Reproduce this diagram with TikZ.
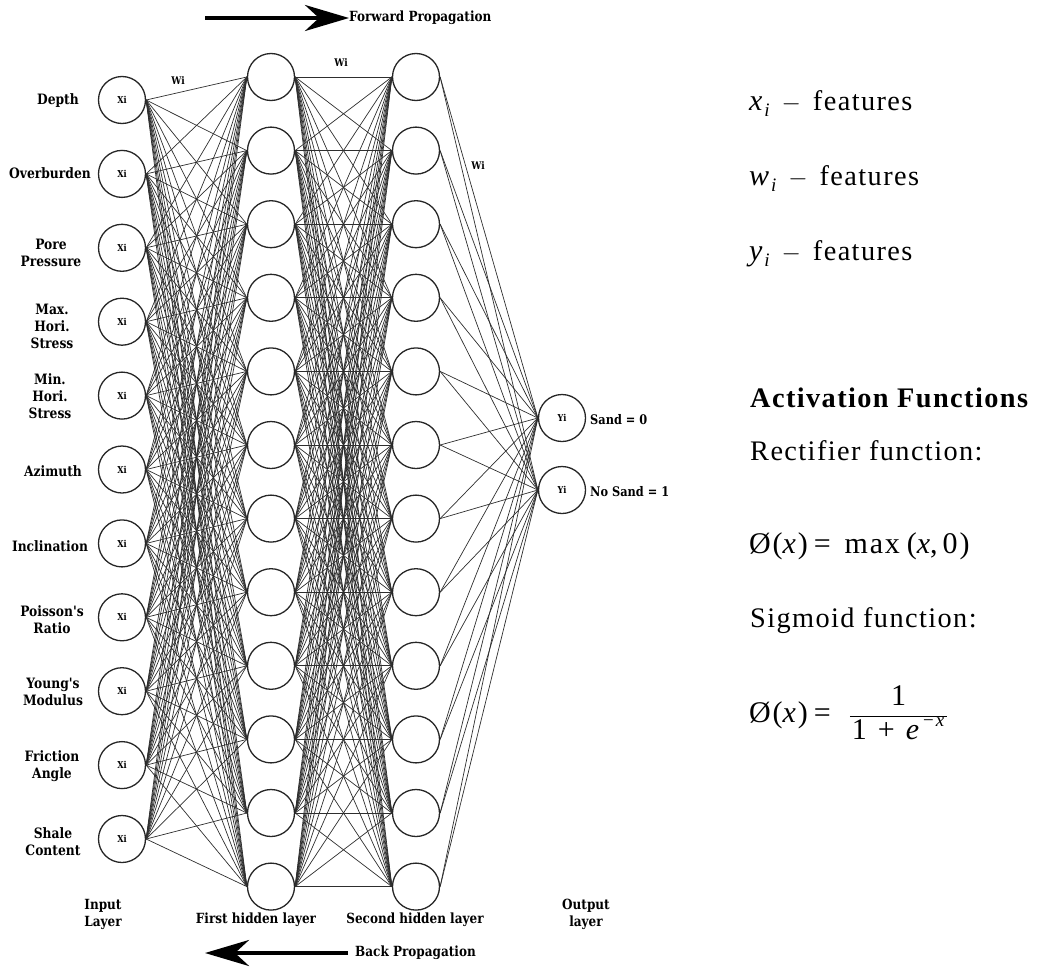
\documentclass[tikz,border=0pt]{standalone}
\usepackage{fontspec}
\setmainfont{Liberation Serif}
\newfontfamily\lblfont[FakeStretch=0.86]{DejaVu Serif}
\newfontfamily\rtfont[LetterSpace=5]{Liberation Serif}
\newfontfamily\rmath[LetterSpace=6]{Liberation Serif}
\usetikzlibrary{arrows.meta}
\newcommand{\subsc}[1]{\raisebox{-0.22em}{\fontsize{19}{20}\selectfont\itshape #1}}
\newcommand{\supsc}[1]{\raisebox{0.42em}{\fontsize{19}{20}\selectfont\itshape #1}}
\tikzset{
  neuron/.style={circle, draw=black!85, line width=1.3pt, minimum size=47pt, inner sep=0pt,
    font=\lblfont\bfseries\fontsize{9.5}{10}\selectfont},
  wire/.style={draw=black!82, line width=0.7pt},
  feat/.style={align=center, inner sep=0pt, font=\lblfont\bfseries\fontsize{14.3}{17}\selectfont},
  wlabel/.style={inner sep=0pt, font=\lblfont\bfseries\fontsize{10.5}{12}\selectfont},
  outlbl/.style={anchor=west, inner sep=0pt, font=\lblfont\bfseries\fontsize{13.2}{15}\selectfont},
  layerlbl/.style={align=center, inner sep=0pt, font=\lblfont\bfseries\fontsize{14}{17}\selectfont},
  proplbl/.style={anchor=west, inner sep=0pt, font=\lblfont\bfseries\fontsize{14}{15}\selectfont},
  proparrow/.style={line width=4pt, -{Stealth[length=44pt, width=26pt, inset=14pt]}},
  rtext/.style={anchor=base west, inner sep=0pt, font=\rtfont\fontsize{28.3}{34}\selectfont},
  rmtext/.style={anchor=base west, inner sep=0pt, font=\rmath\fontsize{30}{34}\selectfont},
}
\begin{document}
\begin{tikzpicture}[x=1pt,y=-1pt]
\useasboundingbox (0,0) rectangle (1062,966);

% input layer
\foreach \i in {1,...,11} {
  \pgfmathsetmacro\yy{100+(\i-1)*73.9}
  \node[neuron] (in\i) at (122,\yy) {Xi};
}
% first hidden layer
\foreach \j in {1,...,12} {
  \pgfmathsetmacro\yy{77+(\j-1)*73.6}
  \node[neuron] (a\j) at (271,\yy) {};
}
% second hidden layer
\foreach \j in {1,...,12} {
  \pgfmathsetmacro\yy{77+(\j-1)*73.6}
  \node[neuron] (b\j) at (416,\yy) {};
}
% output layer
\node[neuron] (o1) at (562,418) {Yi};
\node[neuron] (o2) at (562,490) {Yi};

% connections
\foreach \i in {1,...,11} \foreach \j in {1,...,12} \draw[wire] (in\i.east) -- (a\j.west);
\foreach \i in {1,...,12} \foreach \j in {1,...,12} \draw[wire] (a\i.east) -- (b\j.west);
\foreach \i in {1,...,12} \foreach \j in {1,2} \draw[wire] (b\i.east) -- (o\j.west);

% weight labels
\node[wlabel] (w1) at (178,81) {Wi};
\node[wlabel] (w2) at (341,63) {Wi};
\node[wlabel] (w3) at (478,166) {Wi};

% feature labels
\node[feat] (f1) at (58,101) {Depth};
\node[feat] (f2) at (50,173) {Overburden};
\node[feat] (f3) at (51,253) {Pore\\Pressure};
\node[feat] (f4) at (52,326) {Max.\\Hori.\\Stress};
\node[feat] (f5) at (50,396) {Min.\\Hori.\\Stress};
\node[feat] (f6) at (53,471) {Azimuth};
\node[feat] (f7) at (50,546) {Inclination};
\node[feat] (f8) at (52,620) {Poisson's\\Ratio};
\node[feat] (f9) at (53,692) {Young's\\Modulus};
\node[feat] (f10) at (52,766) {Friction\\Angle};
\node[feat] (f11) at (53,842) {Shale\\Content};

% output labels
\node[outlbl] (s0) at (590,420) {Sand = 0};
\node[outlbl] (s1) at (590,492) {No Sand = 1};

% layer labels
\node[layerlbl] (L1) at (103,914) {Input\\Layer};
\node[layerlbl] (L2) at (256,920) {First hidden layer};
\node[layerlbl] (L3) at (415,920) {Second hidden layer};
\node[layerlbl] (L4) at (586,914) {Output\\layer};

% propagation arrows
\coordinate (fwdS) at (205,18);
\node[proplbl] (fwdT) at (349,18) {Forward Propagation};
\draw[proparrow] (fwdS) -- (fwdT.west);
\node[proplbl] (backT) at (355,953) {Back Propagation};
\coordinate (backE) at (348,953);
\coordinate (backS) at (205,953);
\draw[proparrow] (backE) -- (backS);

% right-hand text
\node[rmtext] (t1) at (749,110) {\textit{x}\subsc{i}\hspace{12pt}$-$\hspace{12pt}{\rtfont\fontsize{28.3}{34}\selectfont features}};
\node[rmtext] (t2) at (749,185) {\textit{w}\subsc{i}\hspace{12pt}$-$\hspace{12pt}{\rtfont\fontsize{28.3}{34}\selectfont features}};
\node[rmtext] (t3) at (749,260) {\textit{y}\subsc{i}\hspace{12pt}$-$\hspace{12pt}{\rtfont\fontsize{28.3}{34}\selectfont features}};
\node[rtext] (t4) at (750,407) {\bfseries Activation Functions};
\node[rtext] (t5) at (750,460) {Rectifier function:};
\node[rmtext] (t6) at (749,553) {Ø(\textit{x})\hspace{6pt}=\hspace{14pt}max\hspace{7pt}(\textit{x},\hspace{5pt}0)};
\node[rtext] (t7) at (750,627) {Sigmoid function:};
\node[rmtext] (t8) at (749,722) {Ø(\textit{x})\hspace{6pt}=\hspace{18pt}$\displaystyle\frac{\mbox{\hspace{2pt}1\hspace{2pt}}}{\mbox{\hspace{2pt}1\hspace{11pt}+\hspace{11pt}\textit{e}\hspace{1pt}\supsc{−x}\hspace{3pt}}}$};
\end{tikzpicture}
\end{document}
